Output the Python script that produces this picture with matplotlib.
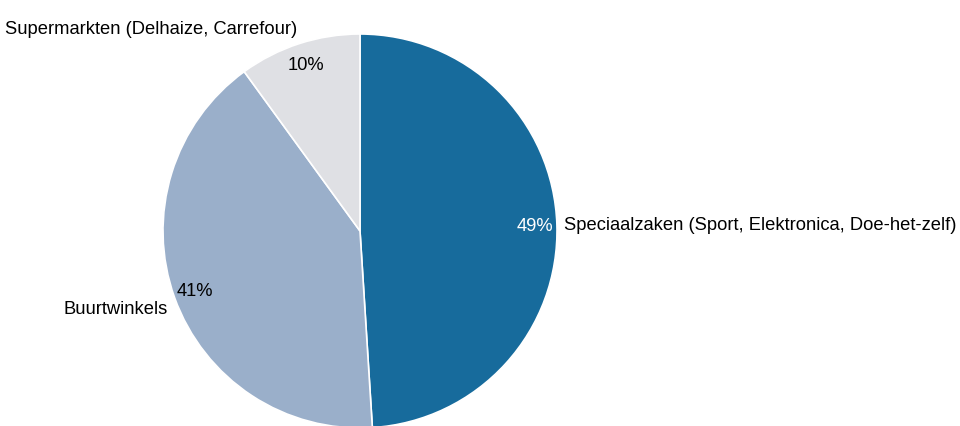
import matplotlib
matplotlib.use("Agg")
import matplotlib.pyplot as plt

plt.rcParams['font.family'] = ['Liberation Sans', 'DejaVu Sans']

categories = ['Speciaalzaken (Sport, Elektronica, Doe-het-zelf)',
              'Buurtwinkels',
              'Supermarkten (Delhaize, Carrefour)']
shares = [49, 41, 10]
colors = ['#176b9c', '#9aafca', '#dfe0e4']
pct_colors = ['white', 'black', 'black']

W, H = 960, 427
cx, cy, r = 360, 232, 197

fig = plt.figure(figsize=(W / 100, H / 100), dpi=100)
ax = fig.add_axes([(cx - r) / W, (H - cy - r) / H, 2 * r / W, 2 * r / H])

wedges, texts, autotexts = ax.pie(
    shares, labels=categories, colors=colors, startangle=90, counterclock=False,
    autopct='%d%%', pctdistance=0.89, labeldistance=1.035,
    wedgeprops=dict(edgecolor='white', linewidth=1.2),
    textprops=dict(fontsize=13.2))

for t, c in zip(autotexts, pct_colors):
    t.set_color(c)
texts[2].set_va('bottom')
texts[1].set_va('top')

ax.set_xlim(-1, 1)
ax.set_ylim(-1, 1)
ax.set_aspect('equal')

fig.savefig('out.png', dpi=100)
